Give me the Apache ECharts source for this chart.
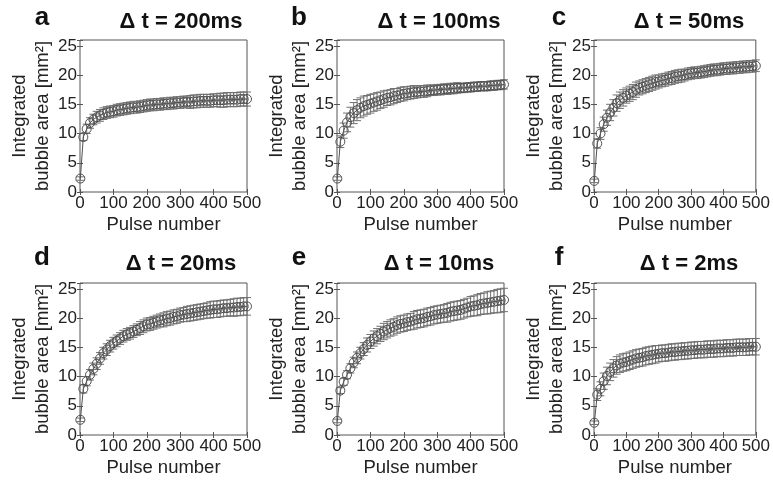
<!DOCTYPE html>
<html><head><meta charset="utf-8">
<script src="https://cdn.jsdelivr.net/npm/echarts@6/dist/echarts.min.js"></script>
<style>html,body{margin:0;padding:0;background:#fff}#c{width:773px;height:483px}</style>
</head><body><div id="c"></div>
<script>
const pulses = [1,10,20,30,40,50,60,70,80,90,100,110,120,130,140,150,160,170,180,190,200,210,220,230,240,250,260,270,280,290,300,310,320,330,340,350,360,370,380,390,400,410,420,430,440,450,460,470,480,490,500];
const xTicks = [0,100,200,300,400,500];
const yTicks = [0,5,10,15,20,25];
const panelLetters = ['a','b','c','d','e','f'];
const panelTitles = ['\u0394 t = 200ms','\u0394 t = 100ms','\u0394 t = 50ms','\u0394 t = 20ms','\u0394 t = 10ms','\u0394 t = 2ms'];

const areaA = [2.3,9.4,10.8,11.8,12.4,12.8,13.1,13.4,13.6,13.7, 13.8,14.0,14.1,14.2,14.3,14.4,14.5,14.5,14.6,14.7, 14.8,14.9,14.9,15.0,15.0,15.1,15.1,15.2,15.2,15.3, 15.3,15.4,15.4,15.4,15.5,15.5,15.6,15.6,15.6,15.6, 15.7,15.7,15.7,15.7,15.8,15.8,15.8,15.8,15.9,15.9,15.9];
const errA  = [0.3,0.6,0.8,0.9,0.9,1.0,1.0,1.0,1.0,1.0, 1.0,1.0,1.0,1.0,1.0,1.0,1.0,1.0,1.0,1.0, 1.0,1.0,1.0,1.0,1.0,1.0,1.0,1.0,1.0,1.0, 1.0,1.0,1.0,1.1,1.1,1.1,1.1,1.1,1.1,1.1, 1.1,1.1,1.2,1.2,1.2,1.2,1.2,1.2,1.2,1.2,1.2];

const areaB = [2.3,8.6,10.5,11.9,12.8,13.5,14.0,14.4,14.7,14.9, 15.1,15.3,15.5,15.7,15.9,16.1,16.2,16.4,16.5,16.7, 16.8,16.9,17.0,17.1,17.1,17.2,17.2,17.3,17.4,17.4, 17.5,17.5,17.6,17.6,17.7,17.7,17.8,17.8,17.8,17.9, 17.9,18.0,18.0,18.1,18.1,18.1,18.2,18.2,18.3,18.3,18.4];
const errB  = [0.3,1.0,1.3,1.6,1.7,1.8,1.8,1.7,1.7,1.6, 1.6,1.5,1.5,1.4,1.4,1.3,1.3,1.3,1.2,1.2, 1.2,1.1,1.1,1.1,1.0,1.0,1.0,1.0,0.9,0.9, 0.9,0.9,0.9,0.9,0.9,0.9,0.9,0.8,0.8,0.8, 0.8,0.8,0.8,0.8,0.8,0.8,0.8,0.8,0.8,0.8,0.8];

const areaC = [1.9,8.3,10.0,11.6,12.7,13.6,14.4,15.2,15.7,16.1, 16.5,16.8,17.1,17.5,17.8,18.0,18.2,18.4,18.6,18.8, 18.9,19.1,19.2,19.4,19.5,19.7,19.8,19.9,20.0,20.2, 20.3,20.4,20.4,20.5,20.6,20.7,20.8,20.9,20.9,21.0, 21.1,21.1,21.2,21.2,21.3,21.3,21.4,21.4,21.5,21.5,21.6];
const errC  = [0.3,0.8,1.0,1.2,1.3,1.4,1.4,1.4,1.4,1.4, 1.3,1.3,1.3,1.3,1.2,1.2,1.2,1.2,1.2,1.2, 1.1,1.1,1.1,1.1,1.1,1.1,1.1,1.1,1.0,1.0, 1.0,1.0,1.0,1.0,1.0,1.0,1.0,1.0,1.0,1.0, 1.0,1.0,1.0,1.0,1.0,1.0,1.0,1.0,1.0,1.0,1.0];

const areaD = [2.6,7.9,9.2,10.3,11.3,12.2,13.1,14.0,14.6,15.2, 15.7,16.1,16.5,16.9,17.2,17.4,17.7,18.0,18.3,18.6, 18.9,19.0,19.2,19.4,19.6,19.7,19.9,20.0,20.2,20.3, 20.5,20.6,20.7,20.8,20.9,21.0,21.1,21.2,21.3,21.4, 21.5,21.5,21.6,21.7,21.7,21.8,21.8,21.9,21.9,22.0,22.0];
const errD  = [0.3,0.7,0.8,0.9,1.0,1.0,1.0,1.0,1.0,1.0, 1.0,1.0,1.0,1.0,1.0,1.0,1.0,1.0,1.1,1.1, 1.1,1.1,1.1,1.1,1.1,1.2,1.2,1.2,1.2,1.2, 1.2,1.2,1.3,1.3,1.3,1.3,1.3,1.3,1.3,1.4, 1.4,1.4,1.4,1.4,1.4,1.4,1.5,1.5,1.5,1.5,1.5];

const areaE = [2.4,7.6,9.1,10.3,11.4,12.4,13.2,14.0,14.7,15.4, 16.0,16.5,16.9,17.3,17.7,18.0,18.3,18.5,18.8,19.0, 19.1,19.3,19.4,19.6,19.8,19.9,20.0,20.2,20.3,20.5, 20.6,20.7,20.8,20.9,21.1,21.2,21.3,21.4,21.6,21.8, 22.0,22.1,22.2,22.4,22.5,22.6,22.7,22.8,22.9,23.0,23.1];
const errE  = [0.3,0.5,0.6,0.7,0.8,0.9,1.0,1.0,1.1,1.2, 1.2,1.3,1.3,1.3,1.4,1.4,1.4,1.4,1.4,1.4, 1.4,1.4,1.4,1.5,1.5,1.5,1.5,1.5,1.5,1.5, 1.5,1.5,1.5,1.6,1.6,1.6,1.6,1.6,1.6,1.6, 1.7,1.7,1.8,1.8,1.8,1.9,1.9,1.9,2.0,2.0,2.0];

const areaF = [2.1,6.9,7.9,9.2,10.1,10.8,11.4,11.9,12.2,12.4, 12.5,12.7,12.9,13.1,13.2,13.3,13.5,13.6,13.7,13.8, 13.9,14.0,14.0,14.1,14.2,14.2,14.3,14.3,14.4,14.4, 14.5,14.5,14.6,14.6,14.6,14.7,14.7,14.7,14.8,14.8, 14.8,14.9,14.9,14.9,15.0,15.0,15.0,15.0,15.1,15.1,15.1];
const errF  = [0.3,1.0,1.2,1.4,1.5,1.5,1.5,1.5,1.5,1.5, 1.5,1.5,1.5,1.5,1.5,1.5,1.5,1.5,1.5,1.5, 1.4,1.4,1.4,1.4,1.4,1.4,1.4,1.4,1.4,1.4, 1.4,1.4,1.4,1.4,1.4,1.4,1.4,1.4,1.4,1.4, 1.4,1.4,1.4,1.4,1.4,1.4,1.4,1.4,1.4,1.4,1.4];

const areas = [areaA, areaB, areaC, areaD, areaE, areaF];
const errs = [errA, errB, errC, errD, errE, errF];

const FONT = "'Liberation Sans', Arial, sans-serif";
const colLeft = [80, 337, 594];
const rowTop = [40, 283];
const GW = 167, GH = 152;
const markColor = '#505050';
const barColor = '#707070';

const grids = [], xAxes = [], yAxes = [], series = [], graphics = [];

for (let k = 0; k < 6; k++) {
  const c = k % 3, r = Math.floor(k / 3);
  const left = colLeft[c], top = rowTop[r];
  grids.push({left: left, top: top, width: GW, height: GH, show: true, borderColor: '#555', borderWidth: 1, backgroundColor: 'transparent'});
  const xBase = {gridIndex: k, type: 'value', min: xTicks[0], max: xTicks[xTicks.length-1], interval: 100,
    splitLine: {show: false}, axisLine: {show: false}};
  xAxes.push(Object.assign({}, xBase, {position: 'bottom',
    axisTick: {show: true, inside: true, length: 3, lineStyle: {color: '#555'}},
    axisLabel: {show: true, margin: 3, fontSize: 17, color: '#222', fontFamily: FONT},
    name: 'Pulse number', nameLocation: 'middle', nameGap: 23,
    nameTextStyle: {fontSize: 18.5, color: '#222', fontFamily: FONT}}));
  xAxes.push(Object.assign({}, xBase, {position: 'top',
    axisTick: {show: true, inside: true, length: 3, lineStyle: {color: '#555'}},
    axisLabel: {show: false}}));
  const yBase = {gridIndex: k, type: 'value', min: 0, max: 26, interval: 5,
    splitLine: {show: false}, axisLine: {show: false}};
  yAxes.push(Object.assign({}, yBase, {position: 'left',
    axisTick: {show: true, inside: true, length: 3, lineStyle: {color: '#555'}},
    axisLabel: {show: true, margin: 3, fontSize: 17, color: '#222', fontFamily: FONT,
      formatter: v => (yTicks.indexOf(v) >= 0 ? String(v) : '')},
    name: 'Integrated\nbubble area [mm\u00b2]', nameLocation: 'middle', nameGap: 26, nameRotate: 90,
    nameTextStyle: {fontSize: 18.5, lineHeight: 23, color: '#222', fontFamily: FONT}}));
  yAxes.push(Object.assign({}, yBase, {position: 'right',
    axisTick: {show: true, inside: true, length: 3, lineStyle: {color: '#555'}},
    axisLabel: {show: false}}));

  const area = areas[k], err = errs[k];
  series.push({
    type: 'custom', xAxisIndex: 2*k, yAxisIndex: 2*k, silent: true, z: 1,
    data: pulses.map((p, i) => [p, area[i], err[i]]),
    encode: {x: 0, y: 1},
    renderItem: function (params, api) {
      const x = api.value(0), y = api.value(1), e = api.value(2);
      const t = api.coord([x, y + e]), b = api.coord([x, y - e]);
      const hw = 4;
      const st = {stroke: barColor, lineWidth: 1};
      return {type: 'group', children: [
        {type: 'line', shape: {x1: t[0], y1: t[1], x2: b[0], y2: b[1]}, style: st},
        {type: 'line', shape: {x1: t[0]-hw, y1: t[1], x2: t[0]+hw, y2: t[1]}, style: st},
        {type: 'line', shape: {x1: b[0]-hw, y1: b[1], x2: b[0]+hw, y2: b[1]}, style: st}
      ]};
    }
  });
  series.push({
    type: 'line', xAxisIndex: 2*k, yAxisIndex: 2*k, z: 2, silent: true,
    data: pulses.map((p, i) => [p, area[i]]),
    symbol: 'circle', symbolSize: 9, showSymbol: true,
    lineStyle: {color: markColor, width: 1},
    itemStyle: {color: 'rgba(0,0,0,0)', borderColor: markColor, borderWidth: 1},
    clip: false
  });

  graphics.push({type: 'text', x: [42, 299, 559][c], y: [18, 258][r],
    style: {text: panelLetters[k], fontSize: 26, fontWeight: 'bold', fontFamily: FONT, fill: '#111',
      align: 'center', verticalAlign: 'middle'}});
  graphics.push({type: 'text', x: [181, 439, 689][c], y: [22, 264][r],
    style: {text: panelTitles[k], fontSize: 22, fontWeight: 'bold', fontFamily: FONT, fill: '#111',
      align: 'center', verticalAlign: 'middle'}});
}

const chart = echarts.init(document.getElementById('c'), null, {renderer: 'canvas'});
chart.setOption({
  animation: false,
  backgroundColor: '#fff',
  grid: grids, xAxis: xAxes, yAxis: yAxes, series: series, graphic: graphics
});
</script>
</body></html>
